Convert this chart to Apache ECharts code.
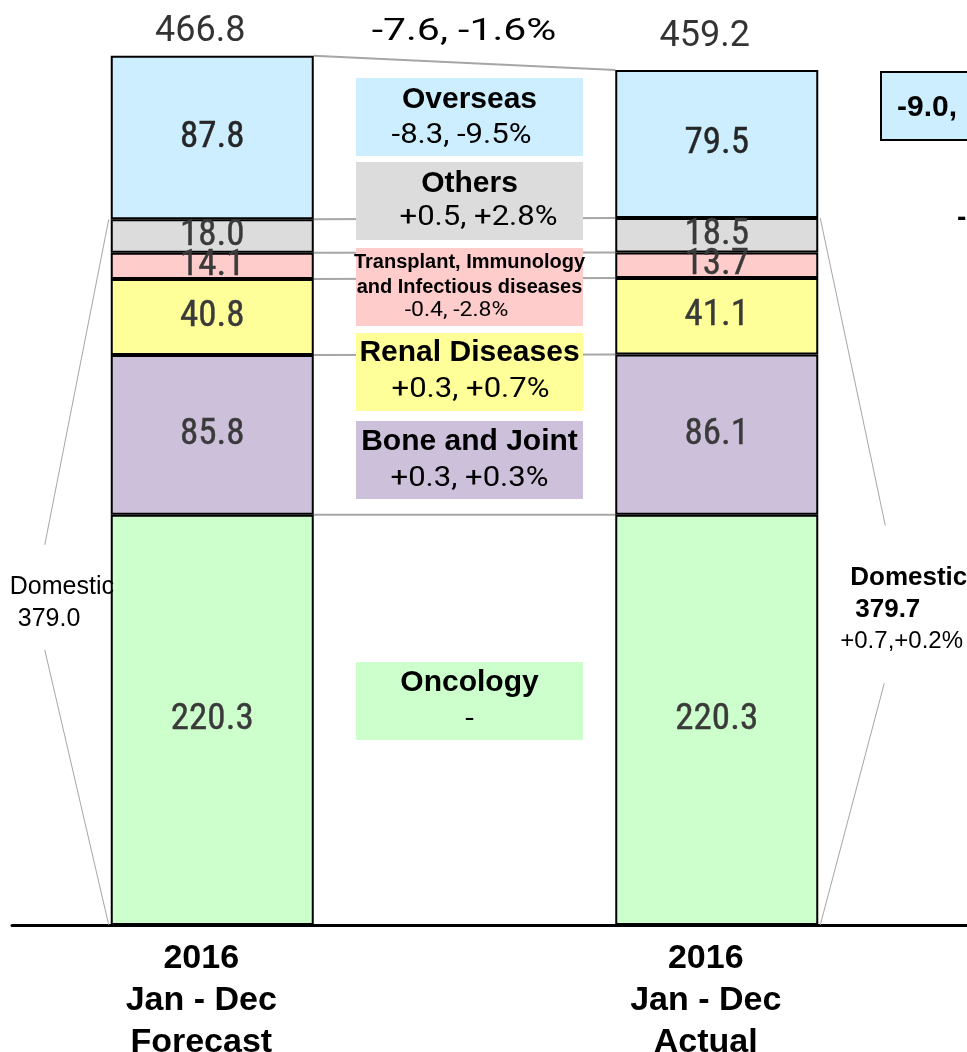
<!DOCTYPE html>
<html>
<head>
<meta charset="utf-8">
<title>2016 Jan - Dec Forecast vs Actual</title>
<script src="https://cdn.jsdelivr.net/npm/echarts@6/dist/echarts.min.js"></script>
<style>
html, body { margin: 0; padding: 0; background: #fff; }
#chart { width: 967px; height: 1052px; }
</style>
</head>
<body>
<div id="chart"></div>
<script>
// data (stack order bottom -> top)
var categories = ['2016\nJan - Dec\nForecast', '2016\nJan - Dec\nActual'];
var oncology   = [220.3, 220.3];
var boneJoint  = [85.8, 86.1];
var renal      = [40.8, 41.1];
var transplant = [14.1, 13.7];
var others     = [18.0, 18.5];
var overseas   = [87.8, 79.5];

var segNames  = ['Oncology', 'Bone and Joint', 'Renal Diseases', 'Transplant, Immunology\nand Infectious diseases', 'Others', 'Overseas'];
var segValues = [oncology, boneJoint, renal, transplant, others, overseas];
var segColors = ['#ccffcc', '#ccc0da', '#ffff99', '#ffcccc', '#dcdcdc', '#cceeff'];

var HALF = 101.5;   // half bar width
var NARROW = '"Liberation Sans Narrow", "Roboto Condensed", "DejaVu Sans Condensed", sans-serif';

// cumulative tops of each segment
var cum = [];
segValues.forEach(function (vals, k) {
    cum.push(vals.map(function (v, i) {
        return Math.round(((k ? cum[k - 1][i] : 0) + v) * 10) / 10;
    }));
});
var totals = cum[5];
var domestic = cum[4];

function signed(v) {
    var s = v.toFixed(1);
    return (v > 0 ? '+' : '') + s;
}
function change(f, a, sep) {
    var d = Math.round((a - f) * 10) / 10;
    if (d === 0) return '-';
    return signed(d) + ',' + sep + signed(d / f * 100) + '%';
}

var chart = echarts.init(document.getElementById('chart'));

var series = segValues.map(function (vals, k) {
    return {
        type: 'bar',
        name: segNames[k],
        stack: 'total',
        xAxisIndex: 0,
        yAxisIndex: 0,
        barWidth: 203,
        data: vals,
        itemStyle: { color: segColors[k], borderColor: '#000', borderWidth: 2 },
        label: {
            show: true,
            position: 'inside',
            color: k === 5 ? '#262626' : '#3a3a3a',
            textBorderColor: k === 5 ? '#262626' : '#3a3a3a',
            textBorderWidth: 0.4,
            fontSize: 37,
            fontFamily: NARROW,
            formatter: function (p) { return p.value.toFixed(1); }
        }
    };
});

// totals on top
var totalGap = [6, 15];
series.push({
    type: 'scatter',
    xAxisIndex: 0,
    yAxisIndex: 0,
    symbolSize: 0,
    silent: true,
    data: totals.map(function (v, i) {
        return { value: [i, v], label: { distance: totalGap[i] } };
    }),
    label: {
        show: true,
        position: 'top',
        offset: [-12, 0],
        color: '#000',
        fontSize: 36,
        fontFamily: 'Roboto',
        formatter: function (p) { return p.value[1].toFixed(1); }
    }
});

// connector lines between the two bars
series.push({
    type: 'custom',
    xAxisIndex: 0,
    yAxisIndex: 0,
    z: 1,
    silent: true,
    data: cum.map(function (c) { return [0, c[0]]; }),
    renderItem: function (params, api) {
        var k = params.dataIndex;
        var p0 = api.coord([0, cum[k][0]]);
        var p1 = api.coord([1, cum[k][1]]);
        return {
            type: 'line',
            shape: { x1: p0[0] + HALF, y1: p0[1], x2: p1[0] - HALF, y2: p1[1] },
            style: { stroke: '#a6a6a6', lineWidth: 2 }
        };
    }
});

// domestic brackets
series.push({
    type: 'custom',
    xAxisIndex: 0,
    yAxisIndex: 0,
    z: 5,
    silent: true,
    data: [[0, domestic[0]]],
    renderItem: function (params, api) {
        var lt = api.coord([0, domestic[0]]);
        var lb = api.coord([0, 0]);
        var lm = api.coord([0, domestic[0] * 0.465]);
        var rt = api.coord([1, domestic[1]]);
        var rb = api.coord([1, 0]);
        var rm = api.coord([1, domestic[1] * 0.455]);
        var xl = lt[0] - HALF, xr = rt[0] + HALF;
        var ln = { stroke: '#a6a6a6', lineWidth: 1 };
        return {
            type: 'group',
            children: [
                { type: 'line', shape: { x1: xl - 2, y1: lt[1], x2: xl - 66, y2: lm[1] - 52 }, style: ln },
                { type: 'line', shape: { x1: xl - 66, y1: lm[1] + 53, x2: xl - 2, y2: lb[1] }, style: ln },
                { type: 'line', shape: { x1: xr + 2, y1: rt[1], x2: xr + 67, y2: rm[1] - 78 }, style: ln },
                { type: 'line', shape: { x1: xr + 66, y1: rm[1] + 80, x2: xr + 2, y2: rb[1] }, style: ln },
                { type: 'text', style: { text: 'Domestic', x: xl - 101, y: lm[1] - 10, textAlign: 'left', textVerticalAlign: 'middle',
                    fontSize: 25, fontFamily: 'Liberation Sans', fill: '#000' } },
                { type: 'text', style: { text: domestic[0].toFixed(1), x: xl - 93, y: lm[1] + 22, textAlign: 'left', textVerticalAlign: 'middle',
                    fontSize: 25, fontFamily: 'Liberation Sans', fill: '#000' } },
                { type: 'text', style: { text: 'Domestic', x: xr + 32, y: rm[1] - 25, textAlign: 'left', textVerticalAlign: 'middle',
                    fontSize: 26, fontWeight: 'bold', fontFamily: 'Liberation Sans', fill: '#000' } },
                { type: 'text', style: { text: domestic[1].toFixed(1), x: xr + 37, y: rm[1] + 7, textAlign: 'left', textVerticalAlign: 'middle',
                    fontSize: 26, fontWeight: 'bold', fontFamily: 'Liberation Sans', fill: '#000' } },
                { type: 'text', style: { text: change(domestic[0], domestic[1], ''), x: xr + 22, y: rm[1] + 38, textAlign: 'left', textVerticalAlign: 'middle',
                    fontSize: 24, fontFamily: 'Liberation Sans', fill: '#000' } }
            ]
        };
    }
});

// middle note boxes
var boxes = [
    { seg: 5, top: 78,  titleSize: 30, titleDy: 22, chgDy: 58, chgSize: 27, chgX: -8 },
    { seg: 4, top: 162, titleSize: 30, titleDy: 22, chgDy: 56, chgSize: 27, chgX: 9 },
    { seg: 3, top: 248, titleSize: 20, titleDy: 27, chgDy: 63, chgSize: 20, chgX: -13, lh: 25 },
    { seg: 2, top: 333, titleSize: 30, titleDy: 20, chgDy: 57, chgSize: 27, chgX: 1 },
    { seg: 1, top: 421, titleSize: 30, titleDy: 21, chgDy: 58, chgSize: 27, chgX: 0 },
    { seg: 0, top: 662, titleSize: 30, titleDy: 21, chgDy: 58, chgSize: 27, chgX: 0 }
];
var BOX_X = 356, BOX_W = 227, BOX_H = 78, CX = BOX_X + BOX_W / 2;
var graphics = [];
boxes.forEach(function (b) {
    var vals = segValues[b.seg];
    graphics.push({ type: 'rect', z: 100, shape: { x: BOX_X, y: b.top, width: BOX_W, height: BOX_H }, style: { fill: segColors[b.seg] } });
    graphics.push({ type: 'text', z: 101, x: CX, y: b.top + b.titleDy,
        style: { text: segNames[b.seg], x: 0, y: 0, textAlign: 'center', textVerticalAlign: 'middle',
            fontSize: b.titleSize, fontWeight: 'bold', fontFamily: 'Liberation Sans', lineHeight: b.lh || b.titleSize, fill: '#000' } });
    graphics.push({ type: 'text', z: 101, x: CX + b.chgX, y: b.top + b.chgDy, scaleX: 1.15,
        style: { text: change(vals[0], vals[1], ' '), x: 0, y: 0, textAlign: 'center', textVerticalAlign: 'middle',
            fontSize: b.chgSize, fontFamily: 'Roboto', fill: '#000' } });
});
// total change
graphics.push({ type: 'text', z: 101, x: 464, y: 32, scaleX: 1.28,
    style: { text: change(totals[0], totals[1], ' '), x: 0, y: 0, textAlign: 'center', textVerticalAlign: 'middle',
        fontSize: 32, fontFamily: 'Roboto', fill: '#000' } });
// cut-off notes at right edge
graphics.push({ type: 'rect', z: 100, shape: { x: 881, y: 72, width: 200, height: 68 }, style: { fill: '#cceeff', stroke: '#000', lineWidth: 2 } });
graphics.push({ type: 'text', z: 101, style: { text: '-9.0,', x: 897, y: 108, textVerticalAlign: 'middle',
    fontSize: 30, fontWeight: 'bold', fontFamily: 'Liberation Sans', fill: '#000' } });
graphics.push({ type: 'text', z: 101, style: { text: '-', x: 957, y: 218, textVerticalAlign: 'middle',
    fontSize: 28, fontWeight: 'bold', fontFamily: 'Liberation Sans', fill: '#000' } });

var option = {
    animation: false,
    backgroundColor: '#fff',
    grid: [
        { left: -40, right: -2, top: -6, bottom: 127, outerBoundsMode: 'none', containLabel: false },
        { left: 12, right: 0, top: -6, bottom: 127, outerBoundsMode: 'none', containLabel: false }
    ],
    xAxis: [
        {
            type: 'category',
            gridIndex: 0,
            data: categories,
            axisLine: { show: false },
            axisTick: { show: false },
            axisLabel: {
                margin: 13,
                color: '#000',
                fontSize: 34,
                fontWeight: 'bold',
                fontFamily: 'Liberation Sans',
                lineHeight: 42,
                padding: [0, 22, 0, 0]
            }
        },
        {
            type: 'value',
            gridIndex: 1,
            min: 0,
            max: 1,
            position: 'bottom',
            axisLine: { show: true, onZero: false, lineStyle: { color: '#000', width: 3 } },
            axisTick: { show: false },
            axisLabel: { show: false },
            splitLine: { show: false }
        }
    ],
    yAxis: [
        { type: 'value', gridIndex: 0, min: 0, max: 500, show: false },
        { type: 'value', gridIndex: 1, min: 0, max: 1, show: false }
    ],
    graphic: graphics,
    series: series
};
chart.setOption(option);
</script>
</body>
</html>
